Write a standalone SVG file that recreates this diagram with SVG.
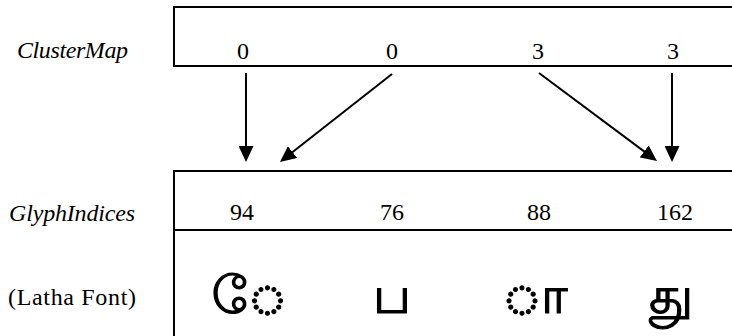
<svg xmlns="http://www.w3.org/2000/svg" width="732" height="336" viewBox="0 0 732 336">
<defs>
<style>
.box{fill:none;stroke:#000;stroke-width:2}
.lbl{font-family:"Liberation Serif",serif;font-style:italic;font-size:24px;fill:#000}
.lbl2{font-family:"Liberation Serif",serif;font-size:24px;fill:#000}
.num{font-family:"Liberation Serif",serif;font-size:24px;fill:#000;text-anchor:middle}
.ta{font-family:"Latha","Lohit Tamil","Noto Sans Tamil","Noto Sans","DejaVu Sans",sans-serif;font-size:51px;fill:#000;stroke:#000;stroke-width:1.2;text-anchor:middle}
.arr{stroke:#000;stroke-width:2;fill:none;marker-end:url(#ah)}
</style>
<marker id="ah" markerUnits="userSpaceOnUse" markerWidth="16" markerHeight="15" refX="12" refY="7.5" orient="auto" viewBox="0 0 16 15">
<path d="M0,0 L16,7.5 L0,15 z" fill="#000"/>
</marker>
</defs>
<rect width="732" height="336" fill="#fff"/>
<g id="labels">
<text class="lbl" x="17" y="58" textLength="111">ClusterMap</text>
<text class="lbl" x="9" y="221" textLength="126">GlyphIndices</text>
<text class="lbl2" x="8" y="305" textLength="128">(Latha Font)</text>
</g>
<g id="clustermap">
<path class="box" d="M740,7 H174 V66 H740"/>
<text class="num" x="243" y="59">0</text>
<text class="num" x="392" y="59">0</text>
<text class="num" x="538" y="59">3</text>
<text class="num" x="673" y="59">3</text>
</g>
<g id="glyphindices">
<path class="box" d="M740,171 H174 V340"/>
<line class="box" x1="174" y1="230" x2="740" y2="230"/>
<text class="num" x="242" y="220">94</text>
<text class="num" x="392" y="220">76</text>
<text class="num" x="539" y="220">88</text>
<text class="num" x="675" y="220">162</text>
</g>
<g id="glyphs">
<text class="ta" x="249" y="313">◌ே</text>
<text class="ta" x="392" y="313">ப</text>
<text class="ta" x="535" y="313">◌ா</text>
<text class="ta" x="671" y="313">து</text>
</g>
<g id="connectors">
<line class="arr" x1="246" y1="73" x2="246" y2="158"/>
<line class="arr" x1="392" y1="74" x2="283.1" y2="159.5"/>
<line class="arr" x1="539" y1="73" x2="653.8" y2="158.6"/>
<line class="arr" x1="672" y1="73" x2="672" y2="158"/>
</g>
</svg>
